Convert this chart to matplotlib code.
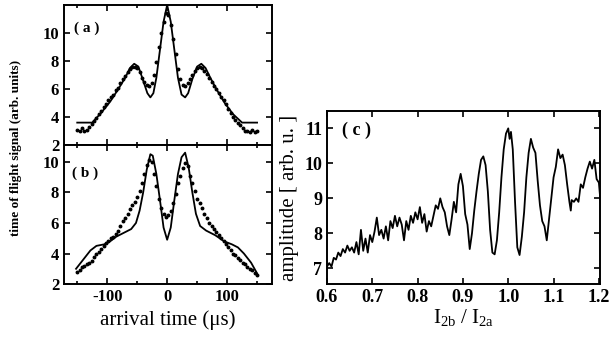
import numpy as np
import matplotlib
matplotlib.use("Agg")
import matplotlib.pyplot as plt

plt.rcParams['font.family'] = ['Liberation Serif', 'DejaVu Serif']
plt.rcParams['mathtext.fontset'] = 'stix'

# panel (a): theory (solid) and measurement (dots)
a_fit_t = [-150, -140, -125, -110, -95, -80, -70, -62, -55, -48, -40, -33, -28, -23, -18, -12, -6, 0,
           6, 12, 18, 24, 30, 35, 42, 50, 57, 64, 72, 82, 96, 110, 125, 140, 150]
a_fit_y = [3.6, 3.6, 3.6, 4.3, 5.1, 6.1, 6.8, 7.5, 7.8, 7.6, 6.6, 5.7, 5.4, 5.7, 6.8, 8.8, 10.8, 12.0,
           10.8, 8.8, 6.8, 5.6, 5.4, 5.7, 6.7, 7.6, 7.8, 7.5, 6.8, 6.0, 5.0, 4.2, 3.6, 3.6, 3.6]
a_dat_t = [-150, -146, -142, -138, -134, -130, -126, -122, -118, -114, -110, -106, -102, -98, -94, -90,
           -86, -82, -78, -74, -70, -66, -62, -58, -54, -50, -46, -42, -38, -34, -30, -26, -22, -18,
           -14, -10, -6, -2, 2, 6, 10, 14, 18, 22, 26, 30, 34, 38, 42, 46, 50, 54, 58, 62, 66, 70,
           74, 78, 82, 86, 90, 94, 98, 102, 106, 110, 114, 118, 122, 126, 130, 134, 138, 142, 146, 150]
a_dat_y = [3.1, 3.0, 3.2, 3.0, 3.1, 3.3, 3.5, 3.7, 3.9, 4.2, 4.4, 4.7, 4.9, 5.2, 5.4, 5.6,
           5.9, 6.1, 6.4, 6.7, 6.9, 7.2, 7.4, 7.6, 7.6, 7.5, 7.2, 6.8, 6.5, 6.3, 6.2, 6.4, 7.0, 7.9,
           9.0, 10.0, 10.8, 11.4, 11.3, 10.6, 9.6, 8.5, 7.4, 6.7, 6.3, 6.2, 6.4, 6.7, 7.0, 7.3, 7.5, 7.6, 7.5, 7.3, 7.1, 6.8,
           6.5, 6.2, 6.0, 5.7, 5.4, 5.2, 4.9, 4.6, 4.3, 4.0, 3.8, 3.6, 3.4, 3.2, 3.0, 3.0, 2.9, 3.1, 2.9, 3.0]

# panel (b)
b_fit_t = [-152, -140, -128, -118, -105, -95, -85, -70, -60, -52, -46, -40, -34, -28, -24, -18, -12, -6, 0,
           6, 12, 18, 24, 30, 36, 42, 48, 55, 65, 80, 95, 108, 118, 128, 140, 150]
b_fit_y = [3.0, 3.6, 4.2, 4.5, 4.6, 4.8, 5.1, 5.4, 5.6, 6.0, 6.8, 8.0, 9.5, 10.5, 10.4, 9.2, 7.5, 5.7, 4.9,
           5.7, 7.5, 9.2, 10.3, 10.6, 9.6, 8.0, 6.6, 5.8, 5.5, 5.2, 4.8, 4.6, 4.4, 4.0, 3.4, 2.7]
b_dat_t = a_dat_t
b_dat_y = [2.8, 2.9, 3.1, 3.2, 3.3, 3.4, 3.5, 3.8, 4.0, 4.1, 4.3, 4.5, 4.7, 4.8, 5.0, 5.1,
           5.3, 5.5, 5.8, 6.1, 6.3, 6.6, 6.9, 7.2, 7.4, 7.7, 8.1, 8.6, 9.2, 9.8, 10.1, 10.0, 9.2, 8.4,
           7.6, 7.0, 6.6, 6.4, 6.5, 6.8, 7.3, 7.9, 8.6, 9.1, 9.6, 9.9, 9.7, 9.1, 8.6, 8.1, 7.6, 7.3, 7.0, 6.6, 6.3, 6.0,
           5.8, 5.6, 5.4, 5.2, 5.0, 4.8, 4.6, 4.4, 4.2, 4.0, 3.9, 3.7, 3.6, 3.4, 3.3, 3.1, 3.0, 2.9, 2.7, 2.6]

# panel (c): amplitude vs intensity ratio
c_x = [0.600, 0.605, 0.610, 0.615, 0.620, 0.625, 0.630, 0.635, 0.640, 0.645, 0.650, 0.655, 0.660, 0.665,
       0.670, 0.675, 0.680, 0.685, 0.690, 0.695, 0.700, 0.705, 0.710, 0.715, 0.720, 0.725, 0.730, 0.735,
       0.740, 0.745, 0.750, 0.755, 0.760, 0.765, 0.770, 0.775, 0.780, 0.785, 0.790, 0.795, 0.800, 0.805,
       0.810, 0.815, 0.820, 0.825, 0.830, 0.835, 0.840, 0.845, 0.850, 0.855, 0.860, 0.865, 0.870, 0.875,
       0.880, 0.885, 0.890, 0.895, 0.900, 0.905, 0.910, 0.915, 0.920, 0.925, 0.930, 0.935, 0.940, 0.945,
       0.950, 0.955, 0.960, 0.965, 0.970, 0.975, 0.980, 0.985, 0.990, 0.995, 1.000, 1.003, 1.006, 1.010,
       1.015, 1.020, 1.025, 1.030, 1.035, 1.040, 1.045, 1.050, 1.055, 1.060, 1.065, 1.070, 1.075, 1.080,
       1.085, 1.090, 1.095, 1.100, 1.105, 1.110, 1.115, 1.120, 1.125, 1.130, 1.135, 1.138, 1.140, 1.145,
       1.150, 1.155, 1.160, 1.165, 1.170, 1.175, 1.180, 1.185, 1.190, 1.195, 1.200, 1.204]
c_y = [7.05, 7.15, 7.05, 7.30, 7.25, 7.45, 7.35, 7.55, 7.45, 7.65, 7.50, 7.60, 7.45, 7.75,
       7.40, 8.10, 7.50, 7.85, 7.45, 7.95, 7.75, 8.05, 8.45, 7.95, 8.10, 7.85, 8.20, 7.80,
       8.35, 8.15, 8.50, 8.20, 8.45, 8.25, 7.80, 8.35, 8.10, 8.50, 8.30, 8.60, 8.40, 8.75,
       8.30, 8.55, 8.05, 8.35, 8.20, 8.50, 8.80, 8.70, 9.00, 8.75, 8.60, 8.20, 7.95, 8.40,
       8.90, 8.60, 9.40, 9.70, 9.35, 8.55, 8.25, 7.55, 8.00, 8.65, 9.20, 9.70, 10.10, 10.20,
       9.95, 9.20, 8.10, 7.45, 7.40, 7.80, 8.60, 9.60, 10.40, 10.85, 11.00, 10.70, 10.90, 10.40,
       8.90, 7.60, 7.38, 7.90, 8.60, 9.60, 10.30, 10.70, 10.45, 10.30, 9.50, 8.80, 8.35, 8.20,
       7.80, 8.40, 9.00, 9.60, 9.90, 10.40, 10.15, 10.25, 9.95, 9.40, 8.90, 8.65, 8.95, 8.90,
       9.00, 8.90, 9.40, 9.30, 9.60, 9.85, 10.05, 9.85, 10.10, 9.55, 9.45, 8.85]

fig = plt.figure(figsize=(6.1, 3.52), dpi=100)
ax_a = fig.add_axes([0.105, 0.588, 0.341, 0.398])
ax_b = fig.add_axes([0.105, 0.193, 0.341, 0.395])
ax_c = fig.add_axes([0.536, 0.193, 0.448, 0.492])

for ax, ft, fy, dt, dy in [(ax_a, a_fit_t, a_fit_y, a_dat_t, a_dat_y),
                           (ax_b, b_fit_t, b_fit_y, b_dat_t, b_dat_y)]:
    ax.plot(ft, fy, color='black', lw=1.3)
    ax.plot(dt, dy, ls='none', marker='o', ms=1.8, color='black')
    ax.set_xlim(-172, 175)
    ax.set_xticks([-100, 0, 100])
    ax.set_xticks([-150, -50, 50, 150], minor=True)
    ax.tick_params(which='both', direction='in', top=True, right=True, labelsize=12, width=1.2)
    ax.tick_params(which='major', length=4)
    ax.tick_params(which='minor', length=2)
    for s in ax.spines.values():
        s.set_linewidth(1.4)

ax_a.set_ylim(2, 12)
ax_a.set_yticks([2, 4, 6, 8, 10])
ax_a.set_yticklabels(['2', '4', '6', '8', '10'])
ax_a.tick_params(labelbottom=False)
ax_b.set_ylim(2, 11.1)
ax_b.set_yticks([2, 4, 6, 8, 10])
ax_b.set_xticklabels(['-100', '0', '100'])
for lab in ax_a.get_yticklabels() + ax_b.get_yticklabels() + ax_b.get_xticklabels():
    lab.set_fontweight('bold')

ax_a.text(0.05, 0.835, '( a )', transform=ax_a.transAxes, fontsize=11, fontweight='bold', va='center')
ax_b.text(0.04, 0.80, '( b )', transform=ax_b.transAxes, fontsize=11, fontweight='bold', va='center')
ax_b.set_xlabel('arrival time (μs)', fontsize=15, labelpad=4)
fig.text(0.027, 0.58, 'time of flight signal (arb. units)', rotation=90, fontsize=9.5,
         fontweight='bold', ha='center', va='center')

ax_c.plot(c_x, c_y, color='black', lw=1.3)
ax_c.set_xlim(0.6, 1.203)
ax_c.set_ylim(6.55, 11.5)
ax_c.set_xticks([0.6, 0.7, 0.8, 0.9, 1.0, 1.1, 1.2])
ax_c.set_yticks([7, 8, 9, 10, 11])
ax_c.tick_params(direction='in', top=True, right=True, labelsize=13, length=4, width=1.2)
for s in ax_c.spines.values():
    s.set_linewidth(1.4)
for lab in ax_c.get_xticklabels() + ax_c.get_yticklabels():
    lab.set_fontweight('bold')
ax_c.text(0.055, 0.89, '( c )', transform=ax_c.transAxes, fontsize=13, fontweight='bold', va='center')
ax_c.set_ylabel('amplitude [ arb. u. ]', fontsize=15, labelpad=4)
ax_c.set_xlabel(r'$\mathregular{I_{2b}\ /\ I_{2a}}$', fontsize=15, labelpad=1)

fig.savefig('out.png', dpi=100)
